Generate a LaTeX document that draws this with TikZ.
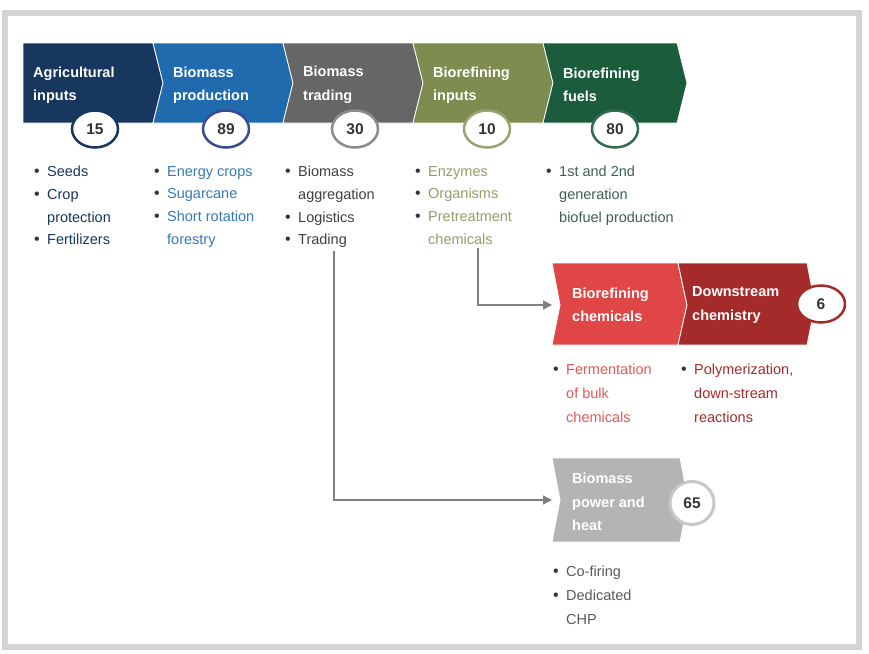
\documentclass[tikz,border=0pt]{standalone}
\usepackage{fontspec}
\setmainfont{Liberation Sans}
\usetikzlibrary{shapes.geometric,arrows.meta}

\definecolor{agri}{HTML}{17375E}
\definecolor{prod}{HTML}{1F6BAE}
\definecolor{prodring}{HTML}{3B4A94}
\definecolor{trad}{HTML}{666666}
\definecolor{binp}{HTML}{7F8C50}
\definecolor{fuel}{HTML}{1A5C3C}
\definecolor{chem}{HTML}{E04646}
\definecolor{dstr}{HTML}{A52B2B}
\definecolor{powr}{HTML}{B4B4B4}
\definecolor{frame}{HTML}{D4D4D4}
\definecolor{dot}{HTML}{333333}

\newcommand\bul{\makebox[13pt][l]{\textcolor{dot}{\fontsize{16}{16}\selectfont\textbullet}}}
\newcommand\ind{\hspace*{13pt}}

\tikzset{
  stage/.style={anchor=west, align=left, text=white, inner sep=0pt,
    font=\bfseries\fontsize{14.5}{23.5}\selectfont},
  items/.style={anchor=north west, align=left, inner sep=0pt,
    font=\fontsize{14.5}{22.7}\selectfont},
  val/.style={ellipse, draw, fill=white, line width=2.5pt, minimum width=46pt,
    minimum height=37pt, inner sep=0pt, text=black!80,
    font=\bfseries\fontsize{15.5}{15.5}\selectfont},
  band/.style={draw=white, line width=0.8pt},
  flow/.style={draw=black!50, line width=1.5pt, -{Triangle[length=9pt,width=9pt]}},
}

\begin{document}
\begin{tikzpicture}[x=1pt,y=-1pt]
\useasboundingbox (0,0) rectangle (869,653);
\draw [frame, line width=6pt] (4.5,12.5) rectangle (858.5,646.5);
%
\path [band, fill=agri] (23,43) -- (153,43) -- (163,83) -- (153,123) -- (23,123) -- cycle;
\path [band, fill=prod] (153,43) -- (283,43) -- (293,83) -- (283,123) -- (153,123) -- (163,83) -- cycle;
\path [band, fill=trad] (283,43) -- (413,43) -- (423,83) -- (413,123) -- (283,123) -- (293,83) -- cycle;
\path [band, fill=binp] (413,43) -- (543,43) -- (553,83) -- (543,123) -- (413,123) -- (423,83) -- cycle;
\path [band, fill=fuel] (543,43) -- (677,43) -- (687,83) -- (677,123) -- (543,123) -- (553,83) -- cycle;
\path [band, fill=chem] (552,263) -- (678,263) -- (687,305) -- (678,345) -- (552,345) -- (560,305) -- cycle;
\path [band, fill=dstr] (678,263) -- (807,263) -- (815,305) -- (807,345) -- (678,345) -- (687,305) -- cycle;
\path [band, fill=powr] (552,458) -- (680,458) -- (688,500) -- (680,542) -- (552,542) -- (560,500) -- cycle;
%
\node [stage] (t1) at (33,85) {Agricultural\\inputs};
\node [stage] (t2) at (173,85) {Biomass\\production};
\node [stage] (t3) at (303,85) {Biomass\\trading};
\node [stage] (t4) at (433,85) {Biorefining\\inputs};
\node [stage] (t5) at (563,85) {Biorefining\\fuels};
\node [stage] (t6) at (572,305) {Biorefining\\chemicals};
\node [stage] (t7) at (692,305) {Downstream\\chemistry};
\node [stage] (t8) at (572,502) {Biomass\\power and\\heat};
%
\node [val, draw=agri] (v15) at (95,129) {15};
\node [val, draw=prodring] (v89) at (226,129) {89};
\node [val, draw=black!45] (v30) at (355,129) {30};
\node [val, draw=binp!80] (v10) at (487,129) {10};
\node [val, draw=fuel!90] (v80) at (615,129) {80};
\node [val, draw=dstr, minimum width=48pt] (v6) at (821,304) {6};
\node [val, draw=black!22, line width=3pt, minimum width=44pt, minimum height=43pt] (v65) at (692,503) {65};
%
\node [items, text=agri] (l1) at (34,166) {\bul Seeds\\ \bul Crop\\ \ind protection\\ \bul Fertilizers};
\node [items, text=prod!90] (l2) at (154,166) {\bul Energy crops\\ \bul Sugarcane\\ \bul Short rotation\\ \ind forestry};
\node [items, text=black!75] (l3) at (285,166) {\bul Biomass\\ \ind aggregation\\ \bul Logistics\\ \bul Trading};
\node [items, text=binp!85] (l4) at (415,166) {\bul Enzymes\\ \bul Organisms\\ \bul Pretreatment\\ \ind chemicals};
\node [items, text=fuel!60!black!80] (l5) at (546,166) {\bul 1st and 2nd\\ \ind generation\\ \ind biofuel production};
\node [items, text=chem!90, font=\fontsize{14.5}{24}\selectfont] (l6) at (553,364) {\bul Fermentation\\ \ind of bulk\\ \ind chemicals};
\node [items, text=dstr, font=\fontsize{14.5}{24}\selectfont] (l7) at (681,364) {\bul Polymerization,\\ \ind down-stream\\ \ind reactions};
\node [items, text=black!65, font=\fontsize{14.5}{24}\selectfont] (l8) at (553,566) {\bul Co-firing\\ \bul Dedicated\\ \ind CHP};
%
\coordinate (chemin) at (552,305);
\coordinate (pwrin) at (552,500);
\draw [flow] ([xshift=49pt,yshift=-3pt]l3.south west) |- (pwrin);
\draw [flow] ([xshift=63pt,yshift=-3pt]l4.south west) |- (chemin);
\end{tikzpicture}
\end{document}
